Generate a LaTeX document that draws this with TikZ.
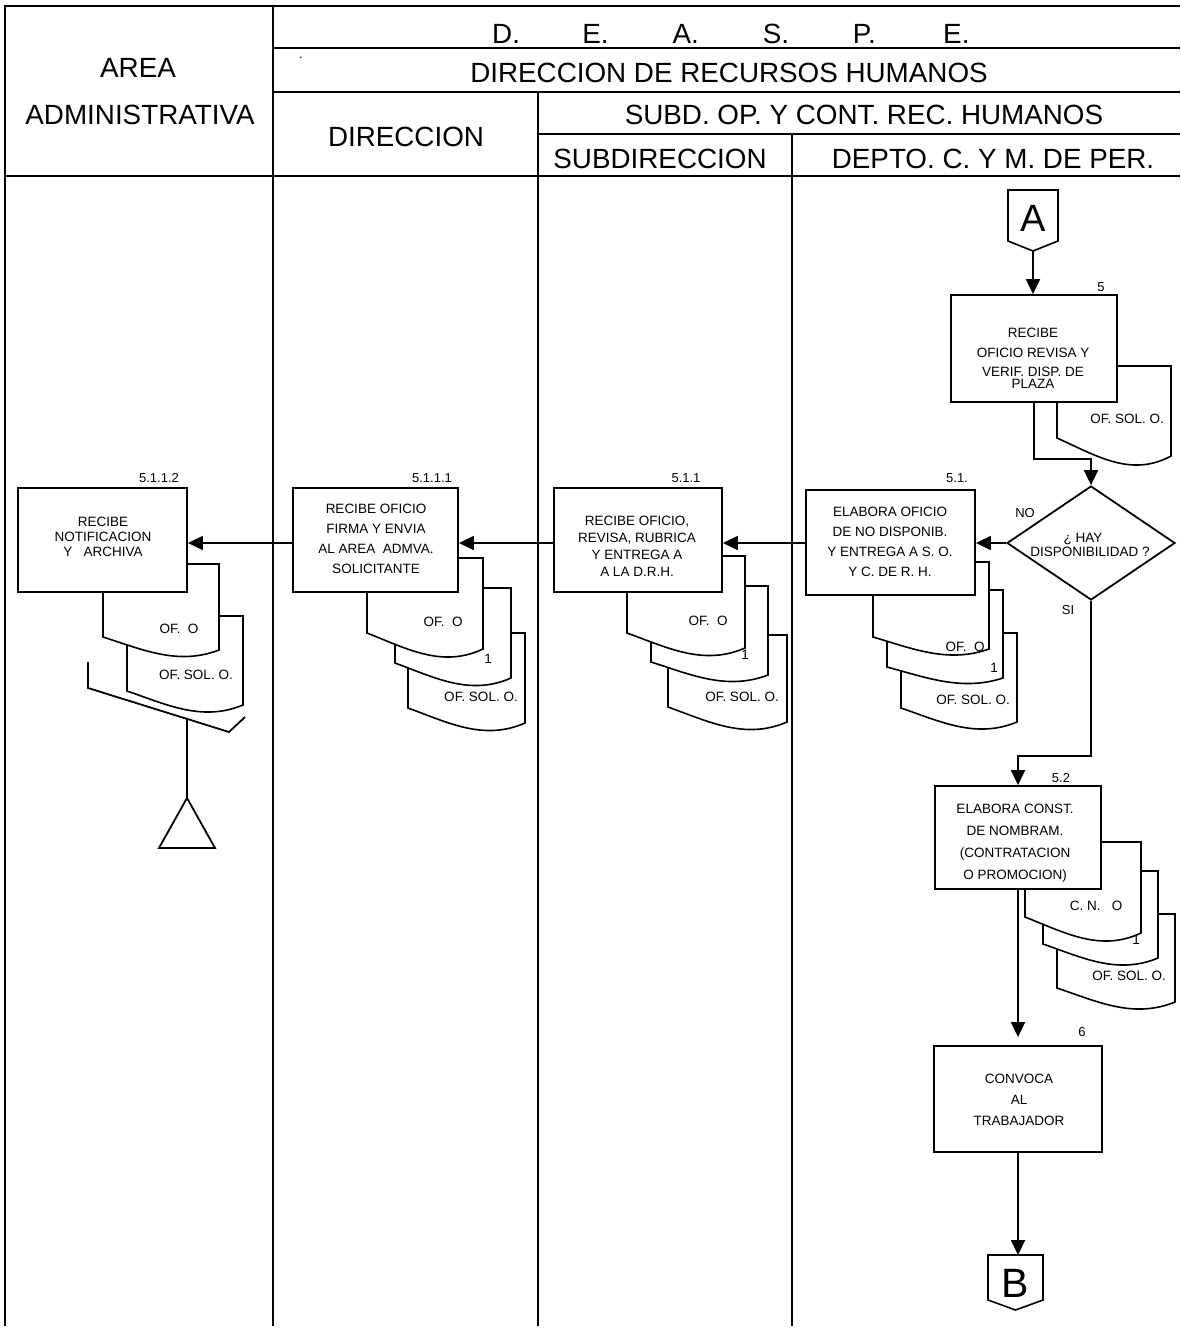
\documentclass[tikz,border=0pt]{standalone}
\usepackage{fontspec}
\setmainfont{Liberation Sans}
\usetikzlibrary{arrows.meta,shapes.geometric}

\newcommand{\docshape}[5]{%
  \pgfmathsetmacro{\docW}{#2-#1}%
  \pgfmathsetmacro{\docD}{#5-#4}%
  \pgfmathsetmacro{\docAx}{#1+0.35*\docW}%
  \pgfmathsetmacro{\docAy}{#4+1.0*\docD}%
  \pgfmathsetmacro{\docBx}{#1+0.65*\docW}%
  \pgfmathsetmacro{\docBy}{#4+2.2*\docD}%
  \draw[docline] (#1,#4) -- (#1,#3) -- (#2,#3) -- (#2,#5)
     .. controls (\docBx,\docBy) and (\docAx,\docAy) .. (#1,#4) -- cycle;%
}

\tikzset{
  frameline/.style={line width=2pt},
  procbox/.style={draw, line width=1.8pt, fill=white, rectangle, inner sep=0pt},
  flow/.style={line width=1.8pt, -{Triangle[length=15pt,width=14pt]}},
  plainline/.style={line width=1.8pt},
  hdr/.style={font=\fontsize{27.8}{30}\selectfont, inner sep=0pt, anchor=base},
  btxt/.style={font=\fontsize{13.5}{#1}\selectfont, align=center, inner sep=0pt, anchor=north},
  lbl/.style={font=\fontsize{13}{15}\selectfont, inner sep=0pt, anchor=base},
  dlbl/.style={font=\fontsize{13.5}{15}\selectfont, inner sep=0pt, anchor=base},
  docline/.style={line width=1.6pt, fill=white},
  conn/.style={line width=1.6pt, fill=white},
}

\begin{document}
\begin{tikzpicture}[x=1pt,y=-1pt]
\useasboundingbox (0,0) rectangle (1180,1329);

% ---------- frame / swimlanes ----------
\draw[frameline] (4.5,6) -- (1180,6);
\draw[frameline] (4.5,5) -- (4.5,1326);
\draw[frameline] (273,6) -- (273,1326);
\draw[frameline] (273,48) -- (1180,48);
\draw[frameline] (273,92) -- (1180,92);
\draw[frameline] (538,92) -- (538,1326);
\draw[frameline] (538,134) -- (1180,134);
\draw[frameline] (792,134) -- (792,1326);
\draw[frameline] (4.5,176) -- (1180,176);

% ---------- header texts ----------
\node[hdr] (hArea) at (138,78) {AREA};
\node[hdr] (hAdmin) at (140,125) {ADMINISTRATIVA};
\node[hdr, anchor=base west] (hDeaspe) at (492,44)
  {\makebox[90.2pt][l]{D.}\makebox[90.2pt][l]{E.}\makebox[90.2pt][l]{A.}\makebox[90.2pt][l]{S.}\makebox[90.2pt][l]{P.}E.};
\node[lbl] (hDot) at (301,59) {.};
\node[hdr] (hDrh) at (729,83) {DIRECCION DE RECURSOS HUMANOS};
\node[hdr] (hSubd) at (864,125) {SUBD. OP. Y CONT. REC. HUMANOS};
\node[hdr] (hDir) at (406,147) {DIRECCION};
\node[hdr] (hSubdir) at (660,169) {SUBDIRECCION};
\node[hdr] (hDepto) at (993,169) {DEPTO. C. Y M. DE PER.};

% ---------- documents (back to front) ----------
% step 5
\docshape{1057}{1171}{366}{438}{456}
% step 5.1
\docshape{901}{1017}{633}{708}{722}
\docshape{887}{1003}{590}{667}{678}
\docshape{873}{989}{562}{637}{649}
% step 5.1.1
\docshape{668}{787}{635}{707}{722}
\docshape{651}{768}{586}{662}{675}
\docshape{627}{745}{556}{633}{648}
% step 5.1.1.1
\docshape{408}{525}{633}{708}{723}
\docshape{395}{511}{588}{663}{678}
\docshape{367}{483}{558}{633}{649}
% step 5.1.1.2
\docshape{127}{243}{616}{691}{705}
\docshape{103}{219}{564}{637}{650}
% step 5.2
\docshape{1057}{1175}{914}{988}{1002}
\docshape{1043}{1158}{871}{944}{958}
\docshape{1025}{1141}{842}{917}{933}

% ---------- process boxes ----------
\node[procbox, minimum width=166pt, minimum height=107pt] (B5) at (1034,348.5) {};
\node[procbox, minimum width=169pt, minimum height=105pt] (B51) at (890.5,542.5) {};
\node[procbox, minimum width=168pt, minimum height=104pt] (B511) at (638,540) {};
\node[procbox, minimum width=165pt, minimum height=104pt] (B5111) at (375.5,540) {};
\node[procbox, minimum width=169pt, minimum height=104pt] (B5112) at (102.5,540) {};
\node[procbox, minimum width=166pt, minimum height=103pt] (B52) at (1018,837.5) {};
\node[procbox, minimum width=168pt, minimum height=106pt] (B6) at (1018,1099) {};

% decision
\node[draw, diamond, line width=1.8pt, fill=white, inner sep=0pt,
      minimum width=168pt, minimum height=114pt] (D) at (1091,543) {};

% ---------- off-page connectors ----------
\draw[conn] (1008,190) -- (1058,190) -- (1058,241) -- (1033,251) -- (1008,241) -- cycle;
\node[font=\fontsize{38}{40}\selectfont, inner sep=0pt, anchor=base] (A) at (1033,232) {A};
\coordinate (Atip) at (1033,251);

\draw[conn] (988,1255) -- (1043,1255) -- (1043,1300) -- (1015.5,1310) -- (988,1300) -- cycle;
\node[font=\fontsize{41}{43}\selectfont, inner sep=0pt, anchor=base] (Bc) at (1015.5,1297) {B};
\coordinate (Btop) at (1018,1255);

% ---------- archive symbol ----------
\draw[plainline] (88,662) -- (88,688) -- (229,732) -- (245,717);
\coordinate (tray) at (187,719.4);
\coordinate (triapex) at (187,798);
\draw[plainline] (tray) -- (triapex);
\draw[plainline] (triapex) -- (159,848) -- (215,848) -- cycle;

% ---------- connectors ----------
\draw[flow] (Atip) -- (Atip |- B5.north);
\draw[flow] (B5.south) -- ++(0,56) -| (D.north);
\draw[flow] (D.west) -- (D.west -| B51.east);
\draw[flow] (B51.west |- D.west) -- (B511.east |- D.west);
\draw[flow] (B511.west |- D.west) -- (B5111.east |- D.west);
\draw[flow] (B5111.west |- D.west) -- (B5112.east |- D.west);
\draw[flow] (D.south) -- ++(0,155) -| (B52.north);
\draw[flow, shorten >=8pt] (B52.south) -- (B6.north);
\draw[flow] (B6.south) -- (B6.south |- Btop);

% ---------- box texts ----------
\node[btxt=19.5] (t5) at (1033,328.3) {RECIBE\\OFICIO REVISA Y\\VERIF. DISP. DE\\[-8pt]PLAZA};
\node[btxt=20] (t51) at (890,507.3) {ELABORA OFICIO\\DE NO DISPONIB.\\Y ENTREGA A S. O.\\Y C. DE R. H.};
\node[btxt=17] (t511) at (637,516.3) {RECIBE OFICIO,\\REVISA, RUBRICA\\Y ENTREGA A\\A LA D.R.H.};
\node[btxt=20] (t5111) at (376,504.3) {RECIBE OFICIO\\FIRMA Y ENVIA\\AL AREA\ \ ADMVA.\\SOLICITANTE};
\node[btxt=15] (t5112) at (103,517.3) {RECIBE\\NOTIFICACION\\Y\ \ \ ARCHIVA};
\node[btxt=21.7] (t52) at (1015,804.3) {ELABORA CONST.\\DE NOMBRAM.\\(CONTRATACION\\O PROMOCION)};
\node[btxt=21] (t6) at (1019,1074.3) {CONVOCA\\AL\\TRABAJADOR};

% decision text
\node[dlbl] (dq1) at (1083,542) {¿ HAY};
\node[dlbl] (dq2) at (1090,556) {DISPONIBILIDAD ?};
\node[lbl] (lNo) at (1025,517) {NO};
\node[lbl] (lSi) at (1068,614) {SI};

% ---------- step numbers ----------
\node[lbl] (n5) at (1101,292) {5};
\node[lbl] (n51) at (957,482) {5.1.};
\node[lbl] (n511) at (686,482) {5.1.1};
\node[lbl] (n5111) at (432,482) {5.1.1.1};
\node[lbl] (n5112) at (159,482) {5.1.1.2};
\node[lbl] (n52) at (1061,782) {5.2};
\node[lbl] (n6) at (1082,1036) {6};

% ---------- document labels ----------
\node[dlbl] (d5a) at (1127,423) {OF. SOL. O.};
\node[dlbl] (d51a) at (965,651) {OF.\ \ O};
\node[dlbl] (d51b) at (994,672) {1};
\node[dlbl] (d51c) at (973,704) {OF. SOL. O.};
\node[dlbl] (d511a) at (708,625) {OF.\ \ O};
\node[dlbl] (d511b) at (745,659) {1};
\node[dlbl] (d511c) at (742,701) {OF. SOL. O.};
\node[dlbl] (d5111a) at (443,626) {OF.\ \ O};
\node[dlbl] (d5111b) at (488,663) {1};
\node[dlbl] (d5111c) at (481,701) {OF. SOL. O.};
\node[dlbl] (d5112a) at (179,633) {OF.\ \ O};
\node[dlbl] (d5112b) at (196,679) {OF. SOL. O.};
\node[dlbl] (d52a) at (1096,910) {C. N.\ \ \ O};
\node[dlbl] (d52b) at (1136,944) {1};
\node[dlbl] (d52c) at (1129,980) {OF. SOL. O.};
\end{tikzpicture}
\end{document}
